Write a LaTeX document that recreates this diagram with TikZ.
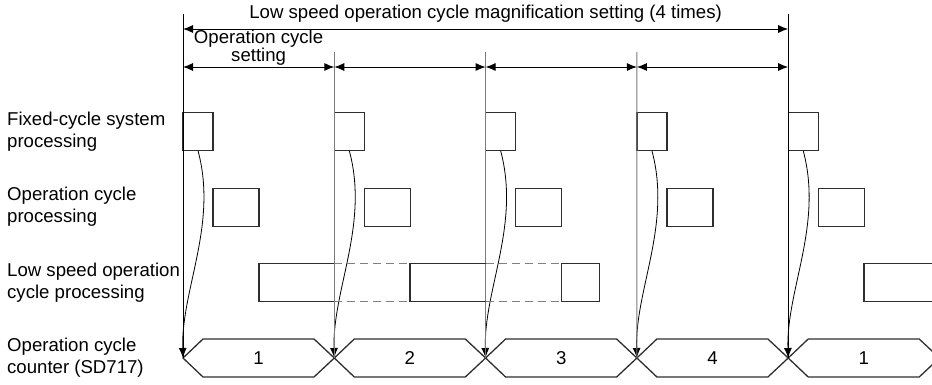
\documentclass[tikz,border=0pt]{standalone}
\usepackage{fontspec}
\setmainfont{Liberation Sans}
\usetikzlibrary{arrows.meta,calc,positioning}
\usepackage{xcolor}
\definecolor{boxline}{HTML}{2E2E2E}
\definecolor{cyclegrey}{HTML}{7A7A7A}
\definecolor{dashgrey}{HTML}{808080}
\tikzset{
  procbox/.style={draw=boxline,line width=1.3pt,minimum height=38pt,inner sep=0pt,outer sep=0pt,anchor=north west},
  rowlabel/.style={anchor=west,align=left,inner sep=0pt,font=\fontsize{18.6}{22}\selectfont},
  dimarrow/.style={{Latex[length=10pt,width=8pt]}-{Latex[length=10pt,width=8pt]},line width=0.9pt},
}
\newcommand{\cyclecolumn}[3]{% {x}{id}{count value}
  % Fixed-cycle and operation cycle boxes
  \node[procbox,minimum width=30pt] (fix#2) at (#1,112.7) {};
  \node[procbox,minimum width=46pt] (opc#2) at (#1+30,188.3) {};
  % Counter hexagon
  \draw[boxline,line width=1.3pt] (#1,358) -- (#1+20,339) -- (#1+131,339)
    -- (#1+151.3,358) -- (#1+131,377) -- (#1+20,377) -- cycle;
  \coordinate (tip#2) at (#1,358);
  \node[font=\fontsize{18.6}{22}\selectfont] (cnt#2) at (#1+75.6,358.5) {#3};
  % Fixed-cycle -> counter
  \draw[-{Latex[length=10pt,width=8pt]},line width=0.8pt] (fix#2.south)
    .. controls +(20,74) and +(-2,-68) .. (tip#2);
}

\begin{document}
\begin{tikzpicture}[x=1pt,y=-1pt]
  \useasboundingbox (0,0) rectangle (932,385);
  \clip (0,0) rectangle (932,385);
  % Columns
  \cyclecolumn{183}{0}{1}
  \cyclecolumn{334.3}{1}{2}
  \cyclecolumn{485.6}{2}{3}
  \cyclecolumn{636.9}{3}{4}
  \cyclecolumn{788.2}{4}{1}
  % Cycle boundaries
  \foreach \i in {0,...,4} {
    \coordinate (dim\i) at (183+151.3*\i,67);
  }
  \coordinate (top0) at (183,29);
  \coordinate (top4) at (788.2,29);
  \draw[line width=0.9pt] (183,14) -- (tip0);
  \draw[line width=0.9pt] (788.2,14) -- (tip4);
  \foreach \i in {1,2,3} {
    \draw[cyclegrey,line width=0.9pt] (183+151.3*\i,52) -- (tip\i);
  }
  % Dimension arrows
  \draw[dimarrow] (top0) -- (top4);
  \node[font=\fontsize{18.6}{22}\selectfont] (lowlbl) at (485.6,14)
    {Low speed operation cycle magnification setting (4 times)};
  \foreach \i [evaluate=\i as \j using int(\i+1)] in {0,...,3} {
    \draw[dimarrow] (dim\i) -- (dim\j);
  }
  \node[font=\fontsize{18.6}{13}\selectfont,align=center,inner sep=0pt] (cyclbl) at (258.6,48)
    {Operation cycle\\setting};
  % Low speed operation cycle processing
  \draw[boxline,line width=1.3pt] (334.3,263.7) -- (259,263.7) -- (259,301.7) -- (334.3,301.7);
  \draw[boxline,line width=1.3pt] (485.6,263.7) -- (410,263.7) -- (410,301.7) -- (485.6,301.7);
  \draw[boxline,line width=1.3pt] (561.7,263.7) rectangle (599.3,301.7);
  \draw[boxline,line width=1.3pt] (864,263.7) rectangle (960,301.7);
  \draw[dashgrey,line width=1pt,dash pattern=on 8pt off 5pt] (334.3,263.7) -- (410,263.7)
    (334.3,301.7) -- (410,301.7) (485.6,263.7) -- (561.7,263.7) (485.6,301.7) -- (561.7,301.7);
  % Row labels
  \node[rowlabel] (fixlbl) at (7,131.7) {Fixed-cycle system\\processing};
  \node[rowlabel] (opclbl) at (7,207) {Operation cycle\\processing};
  \node[rowlabel] (lsplbl) at (7,282.7) {Low speed operation\\cycle processing};
  \node[rowlabel] (cntlbl) at (7,358) {Operation cycle\\counter (SD717)};
\end{tikzpicture}
\end{document}
